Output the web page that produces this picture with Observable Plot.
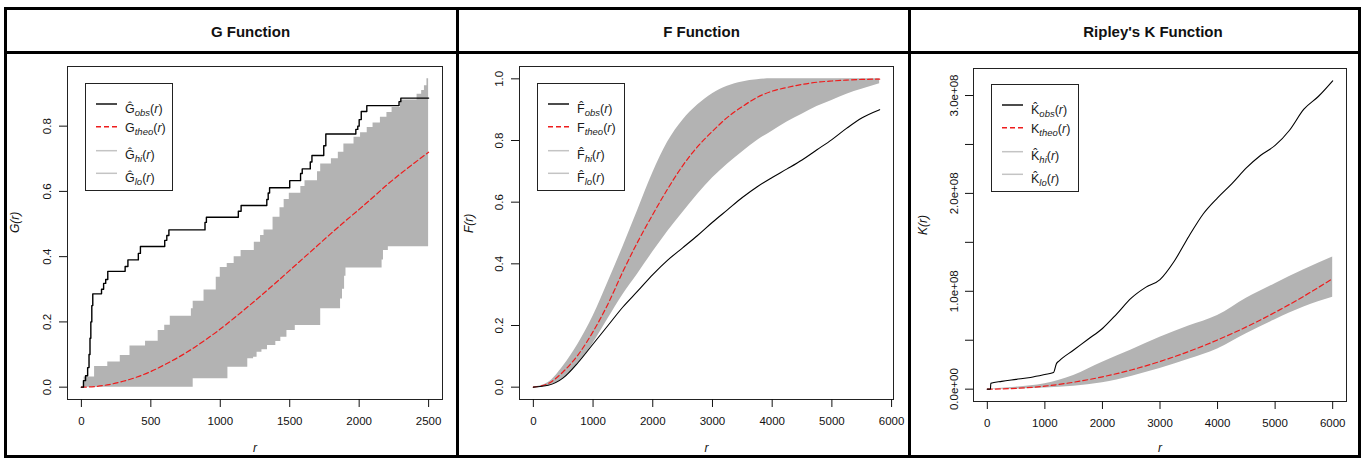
<!DOCTYPE html>
<html><head><meta charset="utf-8">
<script src="https://cdn.jsdelivr.net/npm/d3@7"></script>
<script src="https://cdn.jsdelivr.net/npm/@observablehq/plot@0.6"></script>
<style>
body{margin:0;background:#fff;font-family:"Liberation Sans",Arial,sans-serif;}
#root{position:relative;width:1372px;height:459px;overflow:hidden;background:#fff;}
.bar{position:absolute;background:#000;}
.title{position:absolute;top:24px;font-weight:bold;font-size:15px;line-height:15px;transform:translateX(-50%);white-space:nowrap;color:#111;}
</style></head>
<body><div id="root"></div>
<script>
// ---------- G function (step functions: r where the step starts, value) ----------
const gObsR = [0,15,30,45,55,62,68,75,82,145,160,175,190,315,335,410,425,600,615,630,890,900,1130,1150,1335,1345,1355,1500,1578,1590,1648,1660,1745,1760,1976,1990,2000,2015,2055,2287,2300,2500];
const gObsV = [0,0.02,0.035,0.06,0.1,0.15,0.2,0.25,0.286,0.30,0.318,0.33,0.355,0.37,0.39,0.41,0.431,0.45,0.465,0.482,0.505,0.521,0.539,0.557,0.575,0.595,0.611,0.633,0.655,0.669,0.69,0.71,0.74,0.776,0.79,0.80,0.82,0.845,0.863,0.875,0.886,0.886];
const gHiR = [0,20,95,190,280,350,462,553,600,640,792,805,883,971,1000,1050,1100,1150,1245,1290,1315,1380,1430,1460,1497,1580,1610,1700,1723,1800,1850,1890,1963,2010,2058,2100,2153,2200,2237,2297,2417,2450,2470,2488,2500];
const gHiV = [0,0.031,0.063,0.077,0.097,0.126,0.141,0.174,0.19,0.217,0.24,0.263,0.298,0.337,0.367,0.379,0.40,0.419,0.444,0.465,0.482,0.521,0.55,0.575,0.594,0.615,0.633,0.66,0.684,0.70,0.72,0.745,0.766,0.78,0.796,0.81,0.827,0.842,0.857,0.88,0.898,0.909,0.924,0.945,0.945];
const gLoR = [0,805,1055,1198,1240,1265,1300,1340,1400,1436,1480,1540,1723,1866,1880,1895,1905,2165,2175,2210,2500];
const gLoV = [0,0.026,0.061,0.087,0.092,0.107,0.115,0.128,0.14,0.153,0.174,0.189,0.24,0.27,0.30,0.34,0.365,0.39,0.419,0.43,0.43];
const gTheoR = [0,100,200,300,400,500,600,700,800,900,1000,1100,1200,1300,1400,1500,1600,1700,1800,1900,2000,2100,2200,2300,2400,2500];
const gTheoV = [0,0.002,0.008,0.018,0.031,0.048,0.069,0.092,0.118,0.147,0.178,0.212,0.247,0.283,0.320,0.358,0.396,0.434,0.472,0.509,0.545,0.582,0.62,0.655,0.688,0.72];
const gXTicks = [0,500,1000,1500,2000,2500];
const gYTicks = [0,0.2,0.4,0.6,0.8];

// ---------- F function ----------
const fR = [0,250,500,750,1000,1250,1500,1750,2000,2250,2500,2750,3000,3250,3500,3750,4000,4250,4500,4750,5000,5250,5500,5800];
const fObs = [0,0.006,0.03,0.08,0.14,0.20,0.26,0.312,0.365,0.412,0.452,0.492,0.535,0.575,0.615,0.65,0.68,0.708,0.737,0.77,0.803,0.84,0.873,0.90];
const fTheo = [0,0.012,0.05,0.105,0.18,0.27,0.375,0.472,0.56,0.643,0.718,0.78,0.83,0.875,0.91,0.94,0.96,0.972,0.982,0.989,0.993,0.996,0.998,0.999];
const fHi = [0,0.015,0.068,0.14,0.23,0.34,0.455,0.575,0.695,0.795,0.865,0.915,0.952,0.976,0.99,0.997,1,1,1,1,1,1,1,1];
const fLo = [0,0.005,0.028,0.075,0.142,0.222,0.30,0.368,0.438,0.505,0.566,0.625,0.678,0.723,0.763,0.80,0.83,0.86,0.885,0.91,0.93,0.95,0.966,0.984];
const fXTicks = [0,1000,2000,3000,4000,5000,6000];
const fYTicks = [0,0.2,0.4,0.6,0.8,1.0];

// ---------- Ripley's K function (values in units of 1e8) ----------
const kObsR = [0,55,60,250,500,750,1000,1150,1200,1250,1500,1750,2000,2250,2500,2750,3000,3250,3500,3750,4000,4250,4500,4750,5000,5250,5500,5750,6000];
const kObsV = [0,0,0.06,0.08,0.10,0.12,0.15,0.17,0.26,0.29,0.40,0.51,0.62,0.77,0.93,1.04,1.12,1.31,1.56,1.79,1.955,2.10,2.26,2.39,2.49,2.645,2.86,2.99,3.15];
const kR = [0,500,1000,1500,2000,2500,3000,3500,4000,4500,5000,5500,6000];
const kTheo = [0,0.008,0.031,0.071,0.126,0.196,0.283,0.385,0.503,0.636,0.785,0.95,1.13];
const kHi = [0,0.02,0.055,0.14,0.275,0.40,0.53,0.645,0.753,0.93,1.078,1.22,1.35];
const kLo = [0,0.002,0.012,0.03,0.065,0.13,0.21,0.305,0.41,0.565,0.71,0.84,0.94];
const kXTicks = [0,1000,2000,3000,4000,5000,6000];
const kYTicks = [0,0.5,1,1.5,2,2.5,3];

const titles = ["G Function","F Function","Ripley's K Function"];

// ---------- helpers ----------
const series = (rs, vs) => rs.map((r,i)=>({r, v: vs[i]}));
const envZip = (rs, hi, lo) => rs.map((r,i)=>({r, hi: hi[i], lo: lo[i]}));
function envStep(hiR, hiV, loR, loV){
  const rs = Array.from(new Set([...hiR, ...loR])).sort((a,b)=>a-b);
  return rs.map(r => ({r, hi: hiV[d3.bisectRight(hiR, r)-1], lo: loV[d3.bisectRight(loR, r)-1]}));
}
const root = document.getElementById("root");
const FONT = "'Liberation Sans', Arial, sans-serif";

function panel(o){
  const chart = Plot.plot({
    width: o.width, height: 405,
    marginLeft: o.ml, marginRight: o.mr, marginTop: o.mt, marginBottom: o.mb,
    x: {domain: o.xd, axis: null},
    y: {domain: o.yd, axis: null},
    style: {background: "transparent", fontFamily: FONT, fontSize: "11.5px", color: "#111", overflow: "visible"},
    marks: [
      Plot.areaY(o.env, {x: "r", y1: "lo", y2: "hi", fill: "#b3b3b3", curve: o.curve}),
      Plot.line(o.theo, {x: "r", y: "v", stroke: "#ee1c1c", strokeWidth: 1.2, strokeDasharray: "5,3", curve: o.tcurve}),
      Plot.line(o.obs, {x: "r", y: "v", stroke: "#000", strokeWidth: o.ow, curve: o.curve}),
      Plot.frame({stroke: "#222", strokeWidth: 1}),
      Plot.axisX({ticks: o.xt, tickSize: 8, tickPadding: 9, tickFormat: d3.format("d"), label: null, fontSize: 11.5}),
      Plot.axisY({ticks: o.yt, tickSize: 8, tickPadding: o.ypad, tickRotate: -90, tickFormat: o.yf, label: null, fontSize: 11.5}),
      Plot.text([0], {text: () => "r", frameAnchor: "bottom", dy: o.xlab, lineAnchor: "middle", fontStyle: "italic", fontSize: 12}),
      Plot.text([0], {text: () => o.ylabel, frameAnchor: "left", dx: o.ylab, rotate: -90, lineAnchor: "middle", fontStyle: "italic", fontSize: 12})
    ]
  });
  const d = document.createElement("div");
  d.style.cssText = `position:absolute;left:${o.left}px;top:53px;width:${o.width}px;height:405px;`;
  d.appendChild(chart);
  root.appendChild(d);
}

panel({left: 0, width: 457, ml: 67, mr: 15, mt: 13, mb: 59, xd: [-100, 2600], yd: [-0.0378, 0.9828],
  env: envStep(gHiR, gHiV, gLoR, gLoV), theo: series(gTheoR, gTheoV), obs: series(gObsR, gObsV), curve: "step-after", tcurve: "monotone-x", ow: 1.4,
  xt: gXTicks, yt: gYTicks, yf: d3.format(".1f"), ypad: 9, xlab: 49, ylab: -52, ylabel: "G(r)"});
panel({left: 457, width: 452, ml: 62, mr: 16, mt: 13, mb: 59, xd: [-232, 6032], yd: [-0.04, 1.04],
  env: envZip(fR, fHi, fLo), theo: series(fR, fTheo), obs: series(fR, fObs), curve: "monotone-x", tcurve: "monotone-x", ow: 1.1,
  xt: fXTicks, yt: fYTicks, yf: d3.format(".1f"), ypad: 9, xlab: 49, ylab: -50, ylabel: "F(r)"});
panel({left: 909, width: 452, ml: 64, mr: 15, mt: 15, mb: 57, xd: [-240, 6240], yd: [-0.126, 3.276],
  env: envZip(kR, kHi, kLo), theo: series(kR, kTheo), obs: series(kObsR, kObsV), curve: "monotone-x", tcurve: "monotone-x", ow: 1.1,
  xt: kXTicks, yt: kYTicks, yf: d => d === 0 ? "0.0e+00" : (Number.isInteger(d) ? d.toFixed(1) + "e+08" : ""), ypad: 8, xlab: 47, ylab: -50, ylabel: "K(r)"});

// ---------- frame / strips ----------
function bar(l,t,w,h){const b=document.createElement("div");b.className="bar";b.style.cssText=`left:${l}px;top:${t}px;width:${w}px;height:${h}px;`;root.appendChild(b);}
bar(4,7,1357,3); bar(4,455,1357,3); bar(4,7,3,451); bar(1358,7,3,451);
bar(4,51,1357,3); bar(456,7,3,451); bar(908,7,3,451);
[250.5, 701.5, 1153].forEach((cx,i)=>{const t=document.createElement("div");t.className="title";t.style.left=cx+"px";t.textContent=titles[i];root.appendChild(t);});

// ---------- legends ----------
function legend(left, top, L){
  const W = 88, H = 108;
  const hatted = {G: "\u011C", F: "F\u0302", K: "K\u0302"}[L];
  const svg = d3.create("svg").attr("width", W).attr("height", H)
    .style("position","absolute").style("left", left+"px").style("top", top+"px")
    .style("font-family", FONT);
  svg.append("rect").attr("x",0.5).attr("y",0.5).attr("width",W-1).attr("height",H-1).attr("fill","#fff").attr("stroke","#222");
  const rows = [
    {sub:"obs", hat:true, stroke:"#111", dash:null, y:21},
    {sub:"theo", hat:false, stroke:"#ee1c1c", dash:"5,3", y:43.7},
    {sub:"hi", hat:true, stroke:"#c4c4c4", dash:null, y:67.7},
    {sub:"lo", hat:true, stroke:"#c4c4c4", dash:null, y:90.3}
  ];
  rows.forEach(r=>{
    svg.append("line").attr("x1",11).attr("x2",32).attr("y1",r.y).attr("y2",r.y)
      .attr("stroke",r.stroke).attr("stroke-width",1.5).attr("stroke-dasharray",r.dash);
    const t = svg.append("text").attr("x",40).attr("y", r.y + (r.hat ? 8.6 : 5.3)).attr("font-size",12.5).attr("fill","#1a1a1a");
    t.append("tspan").text(r.hat ? hatted : L);
    t.append("tspan").attr("font-size",9.5).attr("font-style","italic").attr("dy",3).text(r.sub);
    t.append("tspan").attr("dy",-3).text("(");
    t.append("tspan").attr("font-style","italic").text("r");
    t.append("tspan").text(")");
  });
  root.appendChild(svg.node());
}
legend(85, 83, "G");
legend(537, 83, "F");
legend(991, 84, "K");
</script>
</body></html>
